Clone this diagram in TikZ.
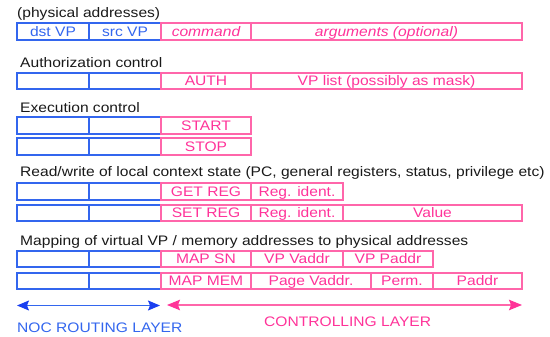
\documentclass[tikz,border=0pt]{standalone}
\usepackage{fontspec}
\setmainfont[FakeStretch=1.13]{Liberation Sans}
\usetikzlibrary{arrows.meta}
\definecolor{netblue}{RGB}{51,102,238}
\definecolor{nethead}{RGB}{26,63,240}
\definecolor{ctlpink}{RGB}{255,51,153}
\definecolor{ctlline}{RGB}{255,102,170}
\definecolor{titlegray}{RGB}{25,25,25}

\tikzset{
  cellbase/.style={draw, line width=1.3pt, anchor=north west, inner sep=0pt, outer sep=0pt,
    text height=9.9pt, text depth=0pt},
  netcell/.style={cellbase, draw=netblue, text=netblue},
  ctlcell/.style={cellbase, draw=ctlline, text=ctlpink},
  heading/.style={anchor=base west, inner sep=0pt, text=titlegray},
  layerlabel/.style={anchor=base west, inner sep=0pt},
  nettip/.tip={Stealth[length=12pt,width=10pt,inset=2pt,color=nethead]},
  ctltip/.tip={Stealth[length=13pt,width=10.5pt,inset=2pt,color=ctlpink]},
  netarrow/.style={line width=1.3pt, draw=netblue, nettip-nettip},
  ctlarrow/.style={line width=1.3pt, draw=ctlline, ctltip-ctltip}
}

\begin{document}
\begin{tikzpicture}[x=1pt,y=-1pt,font=\fontsize{13.8}{16}\selectfont]
\useasboundingbox (0,0) rectangle (550,337);

% --- generic message format
\node[heading] (t1) at (17,18) {(physical addresses)};
\node[netcell, minimum width=72pt, minimum height=17pt] (r1a) at (17,23) {dst VP};
\node[netcell, minimum width=72pt, minimum height=17pt] (r1b) at (89,23) {src VP};
\node[ctlcell, minimum width=90pt, minimum height=17pt] (r1c) at (161,23) {\itshape command};
\node[ctlcell, minimum width=271pt, minimum height=17pt] (r1d) at (251,23) {\itshape arguments (optional)};

% --- authorization
\node[heading] (t2) at (20,68) {Authorization control};
\node[netcell, minimum width=72pt, minimum height=16pt] (r2a) at (17,73) {};
\node[netcell, minimum width=72pt, minimum height=16pt] (r2b) at (89,73) {};
\node[ctlcell, minimum width=90pt, minimum height=16pt] (r2c) at (161,73) {AUTH};
\node[ctlcell, minimum width=271pt, minimum height=16pt] (r2d) at (251,73) {VP list (possibly as mask)};

% --- execution
\node[heading] (t3) at (20,113) {Execution control};
\node[netcell, minimum width=72pt, minimum height=17pt] (r3a) at (17,117) {};
\node[netcell, minimum width=72pt, minimum height=17pt] (r3b) at (89,117) {};
\node[ctlcell, minimum width=90pt, minimum height=17pt] (r3c) at (161,117) {START};
\node[netcell, minimum width=72pt, minimum height=17pt] (r4a) at (17,138) {};
\node[netcell, minimum width=72pt, minimum height=17pt] (r4b) at (89,138) {};
\node[ctlcell, minimum width=90pt, minimum height=17pt] (r4c) at (161,138) {STOP};

% --- context state
\node[heading] (t4) at (20,177) {Read/write of local context state (PC, general registers, status, privilege etc)};
\node[netcell, minimum width=72pt, minimum height=17pt] (r5a) at (17,183) {};
\node[netcell, minimum width=72pt, minimum height=17pt] (r5b) at (89,183) {};
\node[ctlcell, minimum width=90pt, minimum height=17pt] (r5c) at (161,183) {GET REG};
\node[ctlcell, minimum width=92pt, minimum height=17pt] (r5d) at (251,183) {Reg. ident.};
\node[netcell, minimum width=72pt, minimum height=16pt] (r6a) at (17,205) {};
\node[netcell, minimum width=72pt, minimum height=16pt] (r6b) at (89,205) {};
\node[ctlcell, minimum width=90pt, minimum height=16pt] (r6c) at (161,205) {SET REG};
\node[ctlcell, minimum width=92pt, minimum height=16pt] (r6d) at (251,205) {Reg. ident.};
\node[ctlcell, minimum width=179pt, minimum height=16pt] (r6e) at (343,205) {Value};

% --- address mapping
\node[heading] (t5) at (20,246) {Mapping of virtual VP / memory addresses to physical addresses};
\node[netcell, minimum width=72pt, minimum height=16pt] (r7a) at (17,251) {};
\node[netcell, minimum width=72pt, minimum height=16pt] (r7b) at (89,251) {};
\node[ctlcell, minimum width=90pt, minimum height=16pt] (r7c) at (161,251) {MAP SN};
\node[ctlcell, minimum width=92pt, minimum height=16pt] (r7d) at (251,251) {VP Vaddr};
\node[ctlcell, minimum width=90pt, minimum height=16pt] (r7e) at (343,251) {VP Paddr};
\node[netcell, minimum width=72pt, minimum height=16pt] (r8a) at (17,273) {};
\node[netcell, minimum width=72pt, minimum height=16pt] (r8b) at (89,273) {};
\node[ctlcell, minimum width=90pt, minimum height=16pt] (r8c) at (161,273) {MAP MEM};
\node[ctlcell, minimum width=120pt, minimum height=16pt] (r8d) at (251,273) {Page Vaddr.};
\node[ctlcell, minimum width=62pt, minimum height=16pt] (r8e) at (371,273) {Perm.};
\node[ctlcell, minimum width=89pt, minimum height=16pt] (r8f) at (433,273) {Paddr};

% --- layer extents
\coordinate (nocL) at (17,305.5);
\coordinate (nocR) at (160,305.5);
\coordinate (ctlL) at (167,305);
\coordinate (ctlR) at (522,305);
\draw[netarrow] (nocL) -- (nocR);
\draw[ctlarrow] (ctlL) -- (ctlR);
\node[layerlabel, text=netblue] (nocLabel) at (17,332) {NOC ROUTING LAYER};
\node[layerlabel, text=ctlpink] (ctlLabel) at (264,326) {CONTROLLING LAYER};
\end{tikzpicture}
\end{document}
